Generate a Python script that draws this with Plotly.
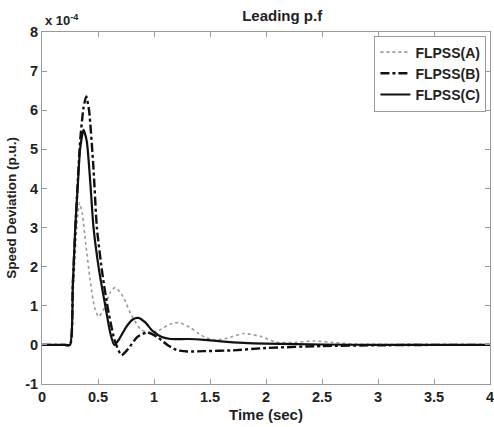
import plotly.graph_objects as go

# Time (sec) and speed deviation (x 1e-4 p.u.)
t_a = [0, 0.2, 0.25, 0.27, 0.29, 0.31, 0.335, 0.36, 0.39, 0.43, 0.47, 0.505, 0.56, 0.61, 0.655, 0.72, 0.80, 0.88, 0.96, 1.05, 1.14, 1.22, 1.32, 1.42, 1.53, 1.65, 1.80, 1.95, 2.09, 2.25, 2.42, 2.6, 2.8, 3.2, 3.6, 4.0]
v_a = [0, 0, 0, 1.0, 2.0, 3.0, 3.63, 3.35, 2.6, 1.66, 0.95, 0.72, 0.95, 1.35, 1.47, 1.25, 0.75, 0.40, 0.30, 0.38, 0.53, 0.57, 0.45, 0.25, 0.12, 0.17, 0.29, 0.22, 0.07, 0.06, 0.10, 0.06, 0.02, 0.01, 0.0, 0.0]

t_b = [0, 0.2, 0.25, 0.275, 0.30, 0.32, 0.34, 0.37, 0.395, 0.42, 0.46, 0.49, 0.54, 0.59, 0.65, 0.71, 0.77, 0.85, 0.94, 1.03, 1.12, 1.2, 1.3, 1.45, 1.7, 2.0, 2.5, 3.0, 3.5, 4.0]
v_b = [0, 0, 0, 1.55, 3.1, 4.2, 5.2, 6.05, 6.35, 6.0, 4.5, 3.0, 1.8, 0.9, 0.1, -0.26, -0.1, 0.2, 0.32, 0.2, 0.0, -0.13, -0.17, -0.16, -0.14, -0.08, -0.03, -0.01, 0.0, 0.0]

t_c = [0, 0.2, 0.25, 0.275, 0.297, 0.32, 0.34, 0.371, 0.40, 0.43, 0.46, 0.51, 0.565, 0.61, 0.645, 0.69, 0.75, 0.81, 0.86, 0.92, 0.99, 1.07, 1.15, 1.3, 1.45, 1.6, 1.8, 2.0, 2.5, 3.0, 3.5, 4.0]
v_c = [0, 0, 0, 1.5, 3.0, 4.1, 5.0, 5.5, 5.2, 4.2, 3.0, 1.9, 1.0, 0.3, 0.0, 0.15, 0.45, 0.65, 0.69, 0.58, 0.35, 0.2, 0.15, 0.15, 0.13, 0.09, 0.05, 0.03, 0.01, 0.0, 0.0, 0.0]

names = ["FLPSS(A)", "FLPSS(B)", "FLPSS(C)"]
x_ticks = [0, 0.5, 1, 1.5, 2, 2.5, 3, 3.5, 4]
x_ticklabels = ["0", "0.5", "1", "1.5", "2", "2.5", "3", "3.5", "4"]
y_ticks = [-1, 0, 1, 2, 3, 4, 5, 6, 7, 8]

FONT = "Liberation Sans"
TICK = dict(family=FONT, size=14.5, color="#222", weight="bold")

fig = go.Figure()
fig.add_trace(go.Scatter(x=t_a, y=v_a, mode="lines", name=names[0],
                         line=dict(color="#9a9a9a", width=1.6, dash="dot", shape="spline", smoothing=0.6)))
fig.add_trace(go.Scatter(x=t_b, y=v_b, mode="lines", name=names[1],
                         line=dict(color="#111111", width=2.4, dash="dashdot", shape="spline", smoothing=0.6)))
fig.add_trace(go.Scatter(x=t_c, y=v_c, mode="lines", name=names[2],
                         line=dict(color="#111111", width=2.2, shape="spline", smoothing=0.6)))

axis_common = dict(showgrid=False, zeroline=False, showline=True, linecolor="#9a9a9a", linewidth=1,
                   mirror="ticks", ticks="inside", ticklen=5, tickcolor="#9a9a9a",
                   tickfont=TICK, ticklabeloverflow="allow")

fig.update_layout(
    width=494, height=427,
    margin=dict(l=42, r=4, t=32, b=43),
    paper_bgcolor="white", plot_bgcolor="white",
    font=dict(family=FONT, color="#222"),
    title=dict(text="Leading p.f", x=0.536, xanchor="center", xref="paper", y=0.963, yanchor="middle",
               font=dict(family=FONT, size=15, color="#222", weight="bold")),
    xaxis=dict(range=[0, 4], tickvals=x_ticks, ticktext=x_ticklabels, automargin=False,
               title=dict(text="Time (sec)", font=dict(family=FONT, size=15, color="#222", weight="bold"), standoff=5),
               **axis_common),
    yaxis=dict(range=[-1, 8], tickvals=y_ticks, ticktext=[str(v) for v in y_ticks], automargin=False,
               title=dict(text="Speed Deviation (p.u.)", font=dict(family=FONT, size=13.5, color="#222", weight="bold"), standoff=5),
               **axis_common),
    legend=dict(x=0.992, y=0.99, xanchor="right", yanchor="top", bgcolor="white",
                bordercolor="#9a9a9a", borderwidth=1,
                font=dict(family=FONT, size=14, color="#222", weight="bold"), tracegroupgap=0),
    showlegend=True,
    annotations=[dict(text="x 10<sup>-4</sup>", x=0, y=1.0, xref="paper", yref="paper",
                      xanchor="left", yanchor="bottom", showarrow=False, xshift=1, yshift=2,
                      font=dict(family=FONT, size=13, color="#222", weight="bold"))],
)

fig.write_html("out.html", config={"displayModeBar": False},
               post_script="document.body.style.margin='0px';document.body.style.overflow='hidden';")
